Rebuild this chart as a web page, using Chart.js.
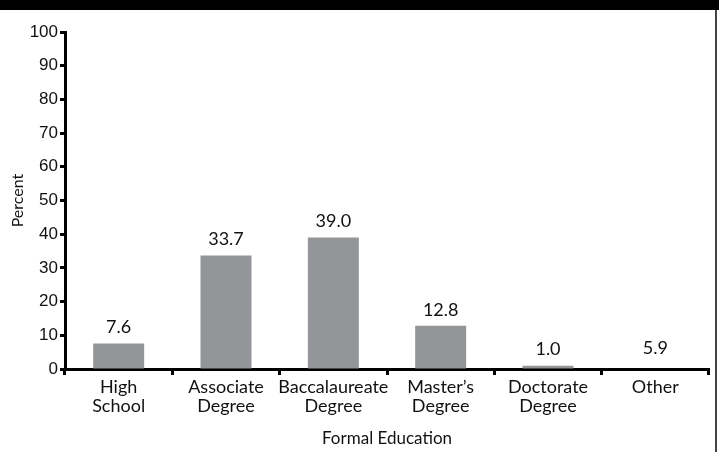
<!DOCTYPE html>
<html>
<head>
<meta charset="utf-8">
<script src="https://cdn.jsdelivr.net/npm/chart.js@4/dist/chart.umd.min.js"></script>
<style>
  html, body { margin: 0; padding: 0; background: #fff; }
  #wrap { position: relative; width: 719px; height: 452px; }
  canvas { display: block; }
</style>
</head>
<body>
<div id="wrap"><canvas id="c" width="719" height="452"></canvas></div>
<script>
const categories = [["High", "School"], ["Associate", "Degree"], ["Baccalaureate", "Degree"], ["Master\u2019s", "Degree"], ["Doctorate", "Degree"], ["Other"]];
const percentValues = [7.6, 33.7, 39.0, 12.8, 1.0, 5.9];
const barVisible = [true, true, true, true, true, false];
const yTickStep = 10;
const yMin = 0, yMax = 100;
const xTitle = "Formal Education";
const yTitle = "Percent";

const GRAY = "#939598";
const FONT = "Lato, 'Open Sans', sans-serif";

const decor = {
  id: "decor",
  beforeDraw(chart) {
    const ctx = chart.ctx;
    ctx.save();
    ctx.fillStyle = "#fff";
    ctx.fillRect(0, 0, chart.width, chart.height);
    ctx.fillStyle = "#000";
    ctx.fillRect(0, 0, chart.width, 10);
    ctx.fillStyle = "#444";
    ctx.fillRect(715, 10, 2, chart.height - 10);
    ctx.restore();
  }
};

const valueLabels = {
  id: "valueLabels",
  afterDatasetsDraw(chart) {
    const ctx = chart.ctx;
    const meta = chart.getDatasetMeta(0);
    const yScale = chart.scales.y;
    ctx.save();
    ctx.font = "18px " + FONT;
    ctx.fillStyle = "#111";
    ctx.textAlign = "center";
    ctx.textBaseline = "bottom";
    meta.data.forEach((bar, i) => {
      const v = percentValues[i];
      let y = barVisible[i] ? bar.y - 7 : yScale.getPixelForValue(0) - 12;
      ctx.fillText(v.toFixed(1), bar.x, y);
    });
    ctx.restore();
  }
};

new Chart(document.getElementById("c"), {
  type: "bar",
  data: {
    labels: categories,
    datasets: [{
      data: percentValues,
      backgroundColor: barVisible.map(v => v ? GRAY : "rgba(0,0,0,0)"),
      borderWidth: 0,
      barPercentage: 0.475,
      categoryPercentage: 1.0
    }]
  },
  options: {
    responsive: false,
    animation: false,
    devicePixelRatio: 1,
    layout: { padding: { top: 32, right: 10, bottom: 0, left: 0 } },
    plugins: { legend: { display: false }, tooltip: { enabled: false } },
    scales: {
      x: {
        offset: true,
        afterFit(scale) { scale.height = 83; },
        border: { display: true, color: "#000", width: 3 },
        grid: { offset: true, drawOnChartArea: false, drawTicks: true, tickLength: 6, tickWidth: 3, tickColor: "#000" },
        ticks: { color: "#111", font: { family: FONT, size: 18, lineHeight: 1.05 }, padding: 3, maxRotation: 0, autoSkip: false },
        title: { display: true, text: xTitle, color: "#111", font: { family: FONT, size: 17 }, padding: { top: 0, bottom: 3 } }
      },
      y: {
        min: yMin, max: yMax,
        afterFit(scale) { scale.width = 65; },
        border: { display: true, color: "#000", width: 3 },
        grid: { drawOnChartArea: false, drawTicks: true, tickLength: 5, tickWidth: 3, tickColor: "#000" },
        ticks: { stepSize: yTickStep, color: "#111", font: { family: "'Liberation Sans', Arial, sans-serif", size: 17 }, padding: 2 },
        title: { display: true, text: yTitle, color: "#111", font: { family: FONT, size: 16 }, padding: { top: 8, bottom: 0 } }
      }
    }
  },
  plugins: [decor, valueLabels]
});
</script>
</body>
</html>
